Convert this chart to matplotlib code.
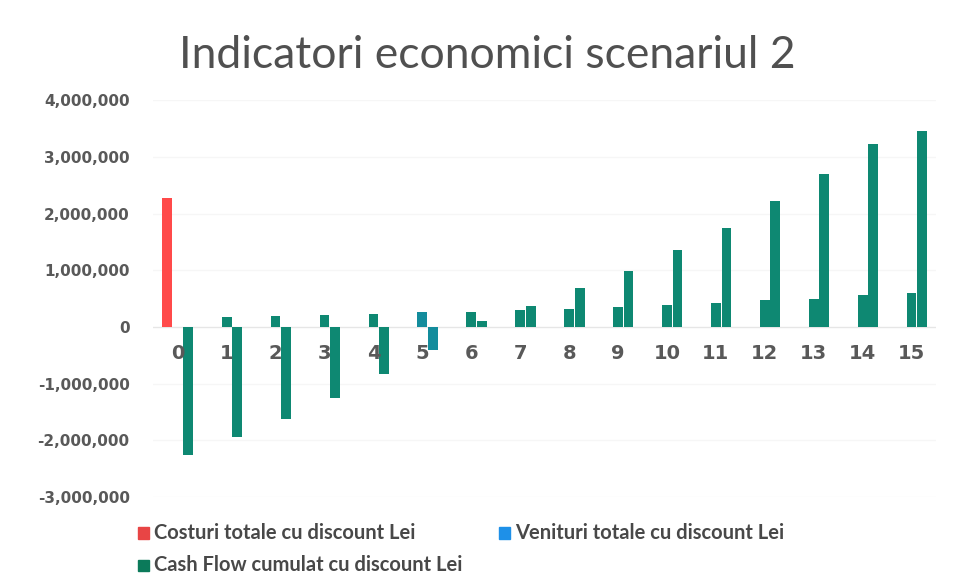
import numpy as np
import matplotlib.pyplot as plt
from matplotlib.patches import Patch
from matplotlib.ticker import FuncFormatter

# year index and discounted values (Lei)
ani = list(range(16))
costuri = [2280000, 0, 0, 0, 0, 0, 0, 0, 0, 0, 0, 0, 0, 0, 0, 0]
venituri = [0, 180000, 200000, 210000, 230000, 270000, 270000, 300000,
            310000, 350000, 380000, 420000, 470000, 490000, 560000, 590000]
cash_flow = [-2260000, -1950000, -1630000, -1250000, -830000, -400000, 100000, 370000,
             680000, 980000, 1350000, 1750000, 2220000, 2690000, 3220000, 3460000]

titlu = "Indicatori economici scenariul 2"
serii = ["Costuri totale cu discount Lei", "Venituri totale cu discount Lei",
         "Cash Flow cumulat cu discount Lei"]

teal = "#0E8872"
teal_blue = "#138C9C"
bar_colors = [teal_blue if a == 5 else teal for a in ani]

fig = plt.figure(figsize=(9.64, 5.86), dpi=100)
ax = fig.add_axes([0.159, 0.152, 0.812, 0.677])

x = np.arange(len(ani))
w = 0.2
step = 0.215
ax.bar(x - step, costuri, w, color="#FF4A4A")
ax.bar(x, venituri, w, color=bar_colors)
ax.bar(x + step, cash_flow, w, color=bar_colors)

ax.axhline(0, color="#e6e6e6", lw=1, zorder=0)
for yv in range(-3000000, 4000001, 1000000):
    if yv != 0:
        ax.axhline(yv, color="#f6f6f6", lw=1, zorder=0)

ax.set_xlim(-0.5, 15.5)
ax.set_ylim(-3000000, 4000000)
ax.set_yticks(range(-3000000, 4000001, 1000000))
ax.yaxis.set_major_formatter(FuncFormatter(lambda v, p: f"{int(v):,}"))
ax.set_xticks(x)
ax.set_xticklabels([str(a) for a in ani])

# category labels sit just under the zero line
ax.spines["bottom"].set_position(("data", 0))
for s in ax.spines.values():
    s.set_visible(False)
ax.tick_params(axis="both", length=0, colors="#595959")
ax.tick_params(axis="x", pad=12, labelsize=14)
ax.tick_params(axis="y", pad=17, labelsize=11)
for lbl in ax.get_xticklabels() + ax.get_yticklabels():
    lbl.set_fontweight("bold")

fig.text(0.505, 0.905, titlu, ha="center", va="center", fontsize=32,
         family="Lato", color="#505050")

handles = [Patch(color="#E84545"), Patch(color="#1E90E8"), Patch(color="#0B7A5A")]
pos = [(0.143, 0.090), (0.518, 0.090), (0.143, 0.035)]
for h, (px, py), name in zip(handles, pos, serii):
    fig.patches.append(plt.Rectangle((px, py - 0.01), 0.0115, 0.02,
                                     transform=fig.transFigure,
                                     color=h.get_facecolor()))
    fig.text(px + 0.0165, py, name, ha="left", va="center", fontsize=14.5,
             family="Lato", fontweight="bold", color="#484848")

fig.savefig("out.png", dpi=100)
